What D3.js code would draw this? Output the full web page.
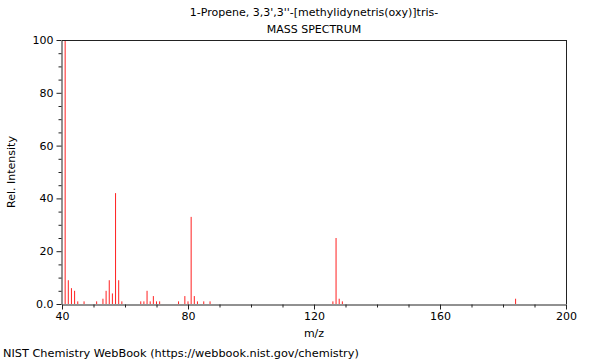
<!DOCTYPE html>
<html><head><meta charset="utf-8">
<script src="https://cdn.jsdelivr.net/npm/d3@7"></script>
<style>body{margin:0;background:#fff}svg{font-family:"DejaVu Sans",sans-serif}</style>
</head><body><svg id="c" width="600" height="360"></svg>
<script>
const mz =        [41, 42, 43, 44, 45, 47, 51, 53, 54, 55, 56, 57, 58, 59, 65, 66, 67, 68, 69, 70, 71, 77, 79, 80, 81, 82, 83, 85, 87, 126, 127, 128, 129, 184];
const intensity = [100, 9, 6, 5, 1, 1, 1, 2, 5, 9, 4, 42, 9, 1, 1, 1, 5, 1, 3, 1, 1, 1, 3, 1, 33, 3, 1, 1, 1, 1, 25, 2, 1, 2];
const xTicks = [40, 80, 120, 160, 200];
const yTicks = [0, 20, 40, 60, 80, 100];
const yTickLabels = ["0.0", "20", "40", "60", "80", "100"];
const titleLines = ["1-Propene, 3,3',3''-[methylidynetris(oxy)]tris-", "MASS SPECTRUM"];

const svg = d3.select("#c");
const L = 62, R = 566, T = 40, B = 304;
const x = d3.scaleLinear().domain([40, 200]).range([L, R]);
const y = d3.scaleLinear().domain([0, 100]).range([B, T]);
const axCol = "#222";

// bars
svg.append("g").selectAll("line").data(mz).join("line")
  .attr("x1", d => x(d)).attr("x2", d => x(d))
  .attr("y1", B).attr("y2", (d, i) => y(intensity[i]))
  .attr("stroke", "#ff2020").attr("stroke-width", 1);

// frame
svg.append("line").attr("x1", L).attr("x2", R).attr("y1", T + 0.5).attr("y2", T + 0.5).attr("stroke", axCol);
svg.append("line").attr("x1", R + 0.5).attr("x2", R + 0.5).attr("y1", T).attr("y2", B).attr("stroke", axCol);

// x axis
const xa = svg.append("g").attr("transform", `translate(0,${B + 0.5})`)
  .call(d3.axisBottom(x).tickValues(xTicks).tickSize(5).tickSizeOuter(0).tickPadding(3));
const xm = svg.append("g").attr("transform", `translate(0,${B + 0.5})`)
  .call(d3.axisBottom(x).tickValues(d3.range(40, 201, 10).filter(v => !xTicks.includes(v))).tickSize(3).tickFormat("").tickSizeOuter(0));
xm.select(".domain").remove();

// y axis
const ya = svg.append("g").attr("transform", `translate(${L - 0.5},0)`)
  .call(d3.axisLeft(y).tickValues(yTicks).tickSize(5).tickSizeOuter(0).tickPadding(3).tickFormat((d, i) => yTickLabels[i]));
const ym = svg.append("g").attr("transform", `translate(${L - 0.5},0)`)
  .call(d3.axisLeft(y).tickValues(d3.range(0, 101, 5).filter(v => !yTicks.includes(v))).tickSize(3).tickFormat("").tickSizeOuter(0));
ym.select(".domain").remove();

svg.selectAll(".domain, .tick line").attr("stroke", axCol);
svg.selectAll(".tick text").attr("font-size", 11).attr("fill", "#000").attr("font-family", "DejaVu Sans");

// titles
svg.selectAll(".title").data(titleLines).join("text").attr("class", "title")
  .attr("x", (L + R) / 2).attr("y", (d, i) => 16 + i * 17)
  .attr("text-anchor", "middle").attr("font-size", 11).text(d => d);

svg.append("text").attr("x", (L + R) / 2).attr("y", 337).attr("text-anchor", "middle").attr("font-size", 11).text("m/z");
svg.append("text").attr("transform", `translate(15,${(T + B) / 2}) rotate(-90)`).attr("text-anchor", "middle").attr("font-size", 11).text("Rel. Intensity");
svg.append("text").attr("x", 3).attr("y", 357).attr("font-size", 11.3).text("NIST Chemistry WebBook (https://webbook.nist.gov/chemistry)");
</script></body></html>
